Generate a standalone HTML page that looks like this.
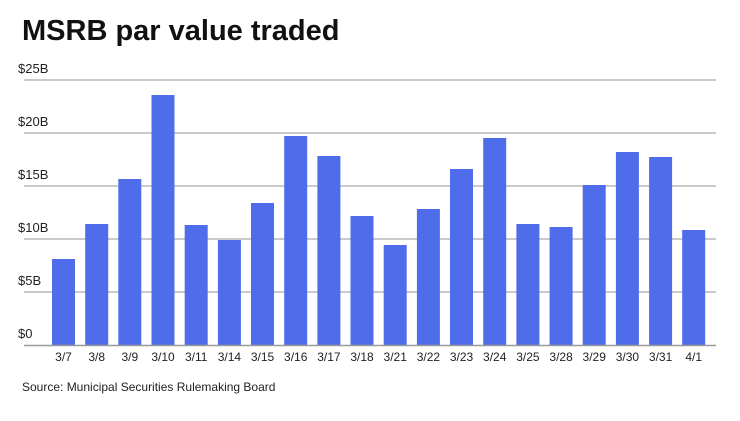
<!DOCTYPE html><html><head><style>
body{margin:0;background:#fff;width:740px;height:416px;overflow:hidden;font-family:"Liberation Sans",sans-serif}
</style></head><body>
<svg width="740" height="416" xmlns="http://www.w3.org/2000/svg" font-family="Liberation Sans, sans-serif">
<text x="22" y="40" font-size="29" font-weight="bold" fill="#111">MSRB par value traded</text>
<g stroke="#aaa" stroke-width="1.2">
<line x1="24" x2="716" y1="80" y2="80"/><line x1="24" x2="716" y1="133" y2="133"/><line x1="24" x2="716" y1="186" y2="186"/><line x1="24" x2="716" y1="239" y2="239"/><line x1="24" x2="716" y1="292" y2="292"/></g>
<g font-size="13" fill="#222">
<text x="18" y="73">$25B</text><text x="18" y="126">$20B</text><text x="18" y="179">$15B</text><text x="18" y="232">$10B</text><text x="18" y="285">$5B</text><text x="18" y="338">$0</text></g>
<g fill="#4f6dea">
<rect x="52" y="259" width="23" height="86"/>
<rect x="85.2" y="224" width="23" height="121"/>
<rect x="118.3" y="179" width="23" height="166"/>
<rect x="151.5" y="95" width="23" height="250"/>
<rect x="184.7" y="225" width="23" height="120"/>
<rect x="217.9" y="240" width="23" height="105"/>
<rect x="251" y="203" width="23" height="142"/>
<rect x="284.2" y="136" width="23" height="209"/>
<rect x="317.4" y="156" width="23" height="189"/>
<rect x="350.5" y="216" width="23" height="129"/>
<rect x="383.7" y="245" width="23" height="100"/>
<rect x="416.9" y="209" width="23" height="136"/>
<rect x="450" y="169" width="23" height="176"/>
<rect x="483.2" y="138" width="23" height="207"/>
<rect x="516.4" y="224" width="23" height="121"/>
<rect x="549.6" y="227" width="23" height="118"/>
<rect x="582.7" y="185" width="23" height="160"/>
<rect x="615.9" y="152" width="23" height="193"/>
<rect x="649.1" y="157" width="23" height="188"/>
<rect x="682.2" y="230" width="23" height="115"/>
</g>
<line x1="24" x2="716" y1="345.5" y2="345.5" stroke="#999" stroke-width="1.5"/>
<g font-size="12" fill="#222" text-anchor="middle">
<text x="63.5" y="361">3/7</text><text x="96.7" y="361">3/8</text><text x="129.8" y="361">3/9</text><text x="163" y="361">3/10</text><text x="196.2" y="361">3/11</text><text x="229.4" y="361">3/14</text><text x="262.5" y="361">3/15</text><text x="295.7" y="361">3/16</text><text x="328.9" y="361">3/17</text><text x="362" y="361">3/18</text><text x="395.2" y="361">3/21</text><text x="428.4" y="361">3/22</text><text x="461.5" y="361">3/23</text><text x="494.7" y="361">3/24</text><text x="527.9" y="361">3/25</text><text x="561.1" y="361">3/28</text><text x="594.2" y="361">3/29</text><text x="627.4" y="361">3/30</text><text x="660.6" y="361">3/31</text><text x="693.7" y="361">4/1</text>
</g>
<text x="22" y="391" font-size="12" fill="#222">Source: Municipal Securities Rulemaking Board</text>
</svg></body></html>
